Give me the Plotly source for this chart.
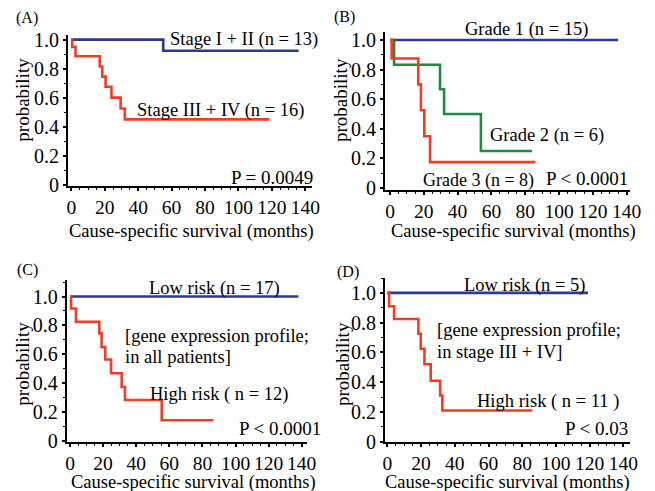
import plotly.graph_objects as go

W, H = 655, 491
FONT = "Liberation Serif, Times New Roman, serif"
BLUE = "#2b3a92"
RED = "#f23c25"
GREEN = "#1f8a45"

# ---------------- data (months, survival probability) ----------------
A_low_t = [0, 55, 136]
A_low_s = [1.0, 0.923, 0.923]
A_high_t = [0, 0.5, 2.5, 17, 18.5, 20.5, 24, 29.5, 32, 118.5]
A_high_s = [1.0, 0.95, 0.885, 0.815, 0.745, 0.675, 0.6, 0.525, 0.45, 0.45]

B_g1_t = [0, 135]
B_g1_s = [1.0, 1.0]
B_g2_t = [0, 2.4, 29.6, 32, 53.8, 84]
B_g2_s = [1.0, 0.833, 0.667, 0.5, 0.25, 0.25]
B_g3_t = [0, 1, 16.7, 18.3, 20.3, 23.7, 86]
B_g3_s = [1.0, 0.875, 0.70, 0.525, 0.35, 0.175, 0.175]

C_low_t = [0, 138]
C_low_s = [1.0, 1.0]
C_high_t = [0, 0.6, 3.6, 17.7, 19.1, 21.3, 24.8, 31.2, 33.2, 55.4, 86.6]
C_high_s = [1.0, 0.917, 0.825, 0.745, 0.65, 0.565, 0.47, 0.375, 0.285, 0.145, 0.145]

D_low_t = [0, 119]
D_low_s = [1.0, 1.0]
D_high_t = [0, 1, 4, 18.4, 19.8, 22, 25.7, 31.3, 32.6, 86]
D_high_s = [1.0, 0.91, 0.825, 0.725, 0.625, 0.52, 0.41, 0.31, 0.21, 0.21]

x_ticks = [0, 20, 40, 60, 80, 100, 120, 140]
x_ticktext = ["0", "20", "40", "60", "80", "100", "120", "140"]
y_ticks = [0, 0.2, 0.4, 0.6, 0.8, 1.0]
y_ticktext = ["0", "0.2", "0.4", "0.6", "0.8", "1.0"]

x_title = "Cause-specific survival (months)"
y_title = "probability"


def px(x):
    return x / W


def py(y):
    return 1 - y / H


# panel layout in pixels: (left, right, top, bottom), x range, y range
panels = {
    "A": dict(box=(68, 312, 35, 186), xr=[-2, 144], yr=[-0.01, 1.032]),
    "B": dict(box=(385, 630, 31.7, 190), xr=[-2.96, 142], yr=[-0.0135, 1.056]),
    "C": dict(box=(66.7, 306.7, 280, 442), xr=[-2.0, 143], yr=[-0.005, 1.114]),
    "D": dict(box=(385, 630, 278, 442), xr=[-1.4, 143.9], yr=[-0.002, 1.1]),
}

fig = go.Figure()
layout = dict(
    template="none",
    width=W, height=H,
    margin=dict(l=0, r=0, t=0, b=0, autoexpand=False),
    paper_bgcolor="white", plot_bgcolor="white",
    showlegend=False,
    font=dict(family=FONT, size=19, color="black"),
)

series = {
    "A": [(A_low_t, A_low_s, BLUE), (A_high_t, A_high_s, RED)],
    "B": [(B_g1_t, B_g1_s, BLUE), (B_g2_t, B_g2_s, GREEN), (B_g3_t, B_g3_s, RED)],
    "C": [(C_low_t, C_low_s, BLUE), (C_high_t, C_high_s, RED)],
    "D": [(D_low_t, D_low_s, BLUE), (D_high_t, D_high_s, RED)],
}

for i, key in enumerate(["A", "B", "C", "D"]):
    n = "" if i == 0 else str(i + 1)
    p = panels[key]
    l, r, t, b = p["box"]
    for tt, ss, col in series[key]:
        fig.add_trace(go.Scatter(
            x=tt, y=ss, mode="lines", line=dict(color=col, width=2.6, shape="hv"),
            xaxis="x" + n, yaxis="y" + n, hoverinfo="skip"))
    layout["xaxis" + n] = dict(
        domain=[px(l), px(r)], range=p["xr"], anchor="y" + n, automargin=False,
        showgrid=False, zeroline=False, showline=True, linecolor="black", linewidth=2,
        tickmode="array", tickvals=x_ticks, ticktext=x_ticktext,
        ticks="outside", ticklen=3, tickwidth=1.5, tickcolor="black",
        ticklabelstandoff=0,
        minor=dict(ticks="outside", ticklen=2, dtick=5, tickwidth=1, tickcolor="black"),
        tickfont=dict(family=FONT, size=19.5, color="black"),
    )
    layout["yaxis" + n] = dict(
        domain=[py(b), py(t)], range=p["yr"], anchor="x" + n, automargin=False,
        showgrid=False, zeroline=False, showline=True, linecolor="black", linewidth=2,
        tickmode="array", tickvals=y_ticks, ticktext=y_ticktext,
        ticks="outside", ticklen=3, tickwidth=1.5, tickcolor="black",
        minor=dict(ticks="outside", ticklen=2, dtick=0.1, tickwidth=1, tickcolor="black"),
        tickfont=dict(family=FONT, size=20, color="black"),
    )

fig.update_layout(**layout)


def ann(text, x, y, xanchor="left", size=18.5, angle=0):
    fig.add_annotation(text=text, x=px(x), y=py(y), xref="paper", yref="paper",
                       xanchor=xanchor, yanchor="middle", showarrow=False,
                       textangle=angle, font=dict(family=FONT, size=size, color="black"))


# panel letters
ann("(A)", 14, 18, size=16)
ann("(B)", 332, 17, size=16)
ann("(C)", 15, 270, size=16)
ann("(D)", 335, 272, size=16)

# axis titles
for cx, cy in [(21.7, 100), (340, 100), (21.7, 364), (342, 364)]:
    ann(y_title, cx, cy, xanchor="center", size=19, angle=-90)
for cx, cy in [(191, 231), (513, 231), (193, 482), (507, 482)]:
    ann(x_title, cx, cy, xanchor="center", size=18.5)

# panel A
ann("Stage I + II (n = 13)", 168, 40)
ann("Stage III + IV (n = 16)", 135, 110)
ann("P = 0.0049", 315, 177, xanchor="right", size=19)
# panel B
ann("Grade 1 (n = 15)", 463, 29)
ann("Grade 2 (n = 6)", 488, 135)
ann("Grade 3 (n = 8)", 421, 181, size=18)
ann("P < 0.0001", 630, 178, xanchor="right", size=19)
# panel C
ann("Low risk (n = 17)", 147, 288)
ann("[gene expression profile;", 123, 336)
ann("in all patients]", 123, 357)
ann("High risk ( n = 12)", 148, 394)
ann("P < 0.0001", 323, 428, xanchor="right", size=19)
# panel D
ann("Low risk (n = 5)", 462, 285)
ann("[gene expression profile;", 435, 330)
ann("in stage III + IV]", 435, 352)
ann("High risk ( n = 11 )", 475, 401)
ann("P < 0.03", 630, 428, xanchor="right", size=19)

fig.write_html("out.html", post_script="document.body.style.margin='0';",
               config={"displayModeBar": False})
